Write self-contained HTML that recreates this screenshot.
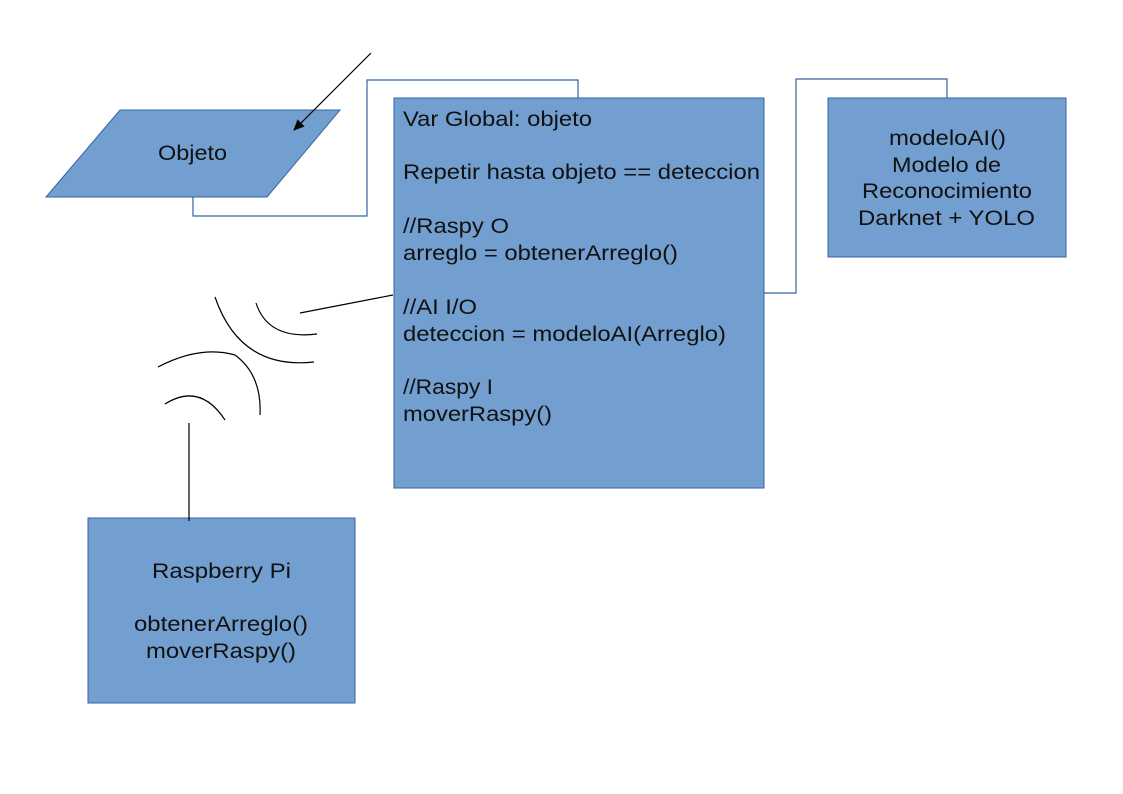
<!DOCTYPE html>
<html><head><style>body{margin:0;background:#fff}svg{display:block}text{font-family:"Liberation Sans",Arial,Helvetica,sans-serif;font-size:21px;fill:#111}</style></head>
<body>
<svg width="1123" height="794" xmlns="http://www.w3.org/2000/svg">
<defs><marker id="a" markerWidth="12" markerHeight="12" refX="10" refY="5" orient="auto" markerUnits="userSpaceOnUse"><path d="M0,0 L11,5 L0,10 z" fill="#000"/></marker></defs>
<g fill="none" stroke="#3465a4" stroke-width="1.2">
<polyline points="193,197 193,216 367,216 367,80 578,80 578,98"/>
<polyline points="764,293 796,293 796,79 947,79 947,98"/>
</g>
<polygon points="120,110 340,110 267,197 46,197" fill="#729fcf" stroke="#3465a4"/>
<rect x="394" y="98" width="370" height="390" fill="#729fcf" stroke="#3465a4"/>
<rect x="828" y="98" width="238" height="159" fill="#729fcf" stroke="#3465a4"/>
<rect x="88" y="518" width="267" height="185" fill="#729fcf" stroke="#3465a4"/>
<g stroke="#000" stroke-width="1.2" fill="none">
<line x1="371" y1="53" x2="294" y2="130" marker-end="url(#a)"/>
<line x1="300" y1="313" x2="393" y2="295"/>
<path d="M215,297 Q240,370 314,362"/>
<path d="M256,303 Q268,340 317,334"/>
<path d="M158,367 Q200,345 235,355 Q262,375 260,415"/>
<path d="M165,404 Q200,382 225,420"/>
<line x1="189" y1="423" x2="189" y2="521"/>
</g>
<g>
<text x="158" y="160" textLength="69" lengthAdjust="spacingAndGlyphs">Objeto</text>
<text x="403" y="126" textLength="189" lengthAdjust="spacingAndGlyphs">Var Global: objeto</text>
<text x="403" y="179" textLength="357" lengthAdjust="spacingAndGlyphs">Repetir hasta objeto == deteccion</text>
<text x="403" y="233" textLength="106" lengthAdjust="spacingAndGlyphs">//Raspy O</text>
<text x="403" y="260" textLength="275" lengthAdjust="spacingAndGlyphs">arreglo = obtenerArreglo()</text>
<text x="403" y="314" textLength="74" lengthAdjust="spacingAndGlyphs">//AI I/O</text>
<text x="403" y="341" textLength="323" lengthAdjust="spacingAndGlyphs">deteccion = modeloAI(Arreglo)</text>
<text x="403" y="394" textLength="90" lengthAdjust="spacingAndGlyphs">//Raspy I</text>
<text x="403" y="421" textLength="149" lengthAdjust="spacingAndGlyphs">moverRaspy()</text>
<text x="889" y="145" textLength="117" lengthAdjust="spacingAndGlyphs">modeloAI()</text>
<text x="892" y="172" textLength="109" lengthAdjust="spacingAndGlyphs">Modelo de</text>
<text x="862" y="198" textLength="170" lengthAdjust="spacingAndGlyphs">Reconocimiento</text>
<text x="858" y="225" textLength="177" lengthAdjust="spacingAndGlyphs">Darknet + YOLO</text>
<text x="152" y="578" textLength="139" lengthAdjust="spacingAndGlyphs">Raspberry Pi</text>
<text x="134" y="631" textLength="174" lengthAdjust="spacingAndGlyphs">obtenerArreglo()</text>
<text x="146" y="658" textLength="150" lengthAdjust="spacingAndGlyphs">moverRaspy()</text>
</g>
</svg>
</body></html>
